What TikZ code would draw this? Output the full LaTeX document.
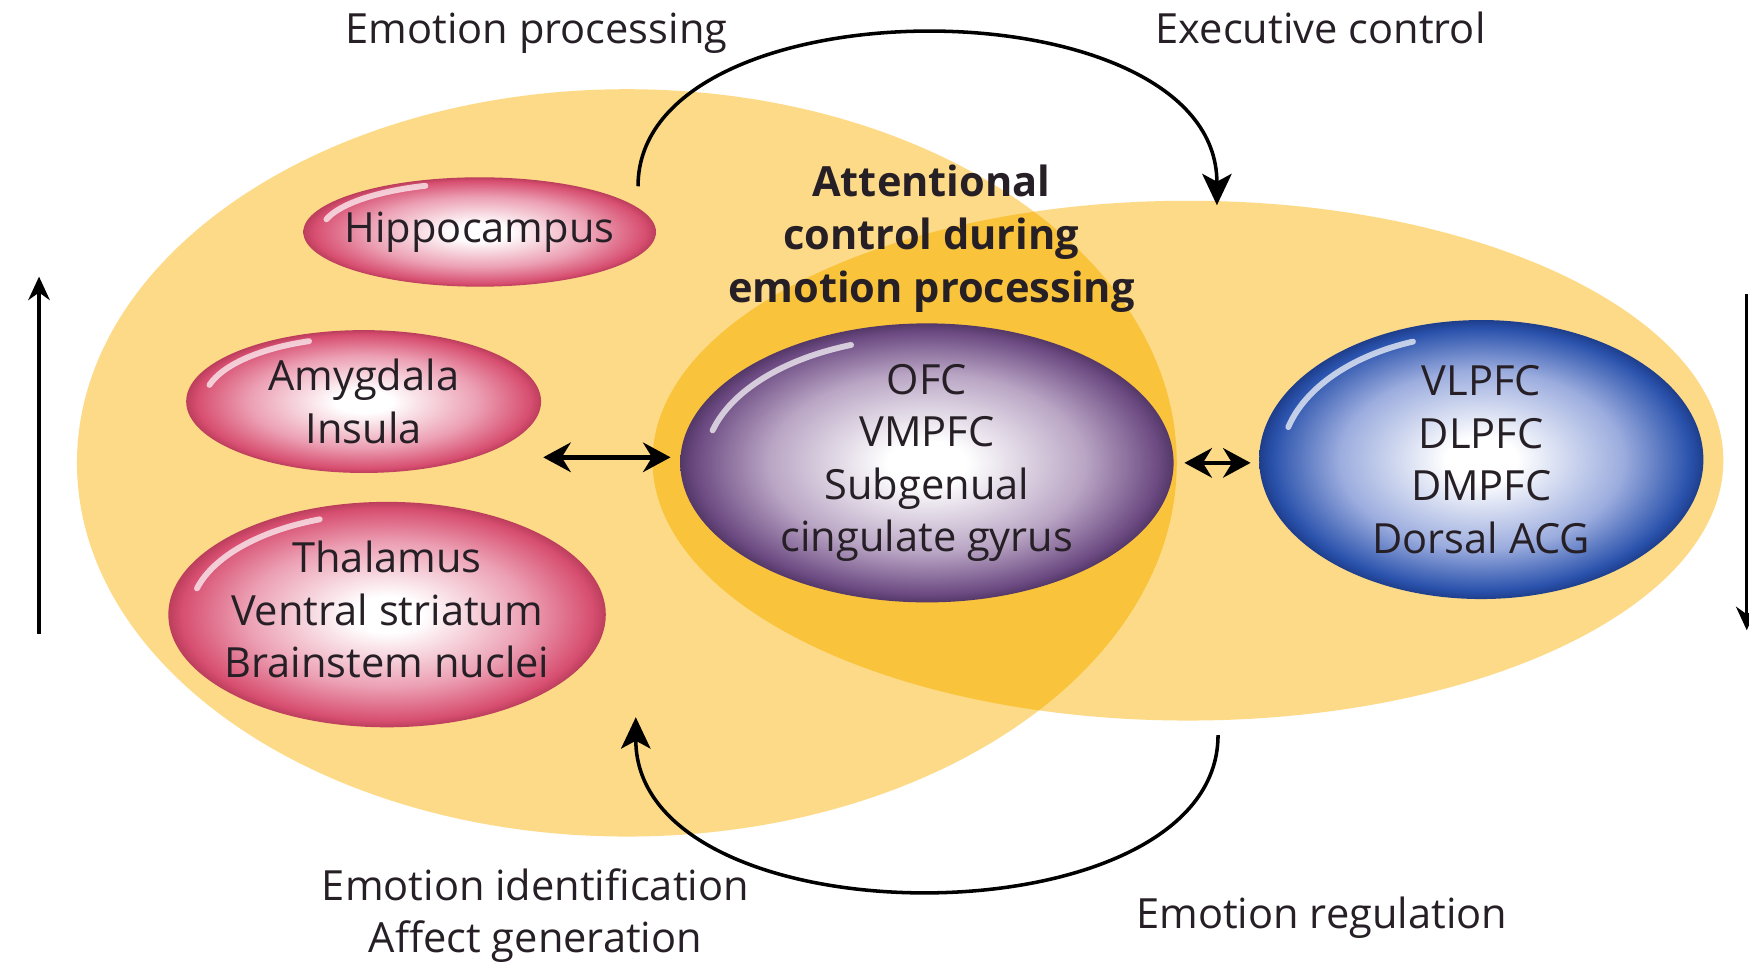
\documentclass[tikz,border=0pt]{standalone}
\usepackage{fontspec}
\setmainfont{Open Sans}
\usetikzlibrary{shapes.geometric,arrows.meta,calc}

\definecolor{paleyel}{RGB}{253,218,135}
\definecolor{deepyel}{RGB}{249,196,60}
\definecolor{inkgray}{RGB}{38,32,38}
\definecolor{pinkmid}{RGB}{236,160,180}
\definecolor{pinkedge}{RGB}{215,78,112}
\definecolor{pinkrim}{RGB}{188,62,92}
\definecolor{purpmid}{RGB}{185,165,196}
\definecolor{purpedge}{RGB}{108,74,130}
\definecolor{purprim}{RGB}{84,56,104}
\definecolor{bluemid}{RGB}{155,172,222}
\definecolor{blueedge}{RGB}{42,82,172}
\definecolor{bluerim}{RGB}{30,62,140}

\pgfdeclareradialshading{pinkglow}{\pgfpoint{0bp}{0bp}}{color(0bp)=(white); color(4bp)=(white); color(16bp)=(pinkmid); color(23.5bp)=(pinkedge); color(25bp)=(pinkrim); color(50bp)=(pinkrim)}
\pgfdeclareradialshading{purpleglow}{\pgfpoint{0bp}{0bp}}{color(0bp)=(white); color(4bp)=(white); color(16bp)=(purpmid); color(23.5bp)=(purpedge); color(25bp)=(purprim); color(50bp)=(purprim)}
\pgfdeclareradialshading{blueglow}{\pgfpoint{0bp}{0bp}}{color(0bp)=(white); color(4bp)=(white); color(16bp)=(bluemid); color(23.5bp)=(blueedge); color(25bp)=(bluerim); color(50bp)=(bluerim)}

\begin{document}
\begin{tikzpicture}[x=0.01cm,y=-0.01cm,
    every node/.style={font=\fontsize{10.6}{13.4}\selectfont,text=inkgray,inner sep=0pt},
    region/.style={ellipse,shade,inner sep=-12pt,align=center},
    limbic/.style={region,shading=pinkglow},
    ventral/.style={region,shading=purpleglow},
    dorsal/.style={region,shading=blueglow},
    shine/.style={white,line width=1.5pt,line cap=round,opacity=0.7},
    curved/.style={line width=0.9pt,-{Stealth[length=8pt,width=7.5pt,inset=2pt]}},
    twoway/.style={line width=1.2pt,{Stealth[length=7pt,width=7.5pt]}-{Stealth[length=7pt,width=7.5pt]}},
    sidearrow/.style={line width=0.8pt,-{Stealth[length=6pt,width=5.5pt]}}]
\useasboundingbox (0,0) rectangle (1568,865);

% the two fields and their overlap
\fill[paleyel] (562,415) ellipse [x radius=493,y radius=335];
\fill[paleyel] (1065,413) ellipse [x radius=480,y radius=233];
\begin{scope}
  \clip (562,415) ellipse [x radius=493,y radius=335];
  \fill[deepyel] (1065,413) ellipse [x radius=480,y radius=233];
\end{scope}

% regions
\node[limbic,minimum width=3.16cm,minimum height=0.98cm] (hip) at (430,208) {Hippocampus};
\node[limbic,minimum width=3.18cm,minimum height=1.28cm] (amyg) at (326,360) {Amygdala\\Insula};
\node[limbic,minimum width=3.92cm,minimum height=2.02cm] (thal) at (347,551)
  {\raisebox{0.07cm}{\begin{tabular}{@{}c@{}}Thalamus\\Ventral striatum\\Brainstem nuclei\end{tabular}}};
\node[ventral,minimum width=4.42cm,minimum height=2.50cm] (ofc) at (831,415) {OFC\\VMPFC\\Subgenual\\cingulate gyrus};
\node[dorsal,minimum width=3.98cm,minimum height=2.50cm] (pfc) at (1328,412) {VLPFC\\DLPFC\\DMPFC\\Dorsal ACG};

\foreach \n/\rx/\ry in {hip/158/49,amyg/159/64,thal/196/101,ofc/221/125,pfc/199/125}
  \draw[shine] (\n.center) ++(195:{0.9*\rx} and {0.9*\ry}) arc[start angle=195,end angle=250,x radius=0.9*\rx,y radius=0.9*\ry];

% labels
\node[anchor=base] (proc) at (481,39) {Emotion processing};
\node[anchor=base] (exec) at (1184,39) {Executive control};
\node[font=\fontsize{10.6}{13.4}\selectfont\bfseries,align=center] (attn) at (835,214) {Attentional\\control during\\emotion processing};
\node[align=center] (ident) at (480,821) {Emotion identification\\Affect generation};
\node[anchor=base] (reg) at (1185,832) {Emotion regulation};

% arrows
\coordinate (topl) at (572,167);
\coordinate (topr) at (1091,184);
\draw[curved] (topl) .. controls (572,-18) and (1091,-18) .. (topr);
\coordinate (botr) at (1092,659);
\coordinate (botl) at (570,643);
\draw[curved] (botr) .. controls (1092,847) and (570,847) .. (botl);

\coordinate (lim) at (487,410);
\draw[twoway,shorten >=0.08cm] (lim) -- (lim -| ofc.west);
\draw[twoway,shorten <=0.09cm,shorten >=0.07cm] (ofc.east) -- (ofc.east -| pfc.west);

\coordinate (upa) at (35,568);
\coordinate (upb) at (35,248);
\draw[sidearrow] (upa) -- (upb);
\coordinate (dna) at (1566,264);
\coordinate (dnb) at (1566,565);
\draw[sidearrow] (dna) -- (dnb);
\end{tikzpicture}
\end{document}
